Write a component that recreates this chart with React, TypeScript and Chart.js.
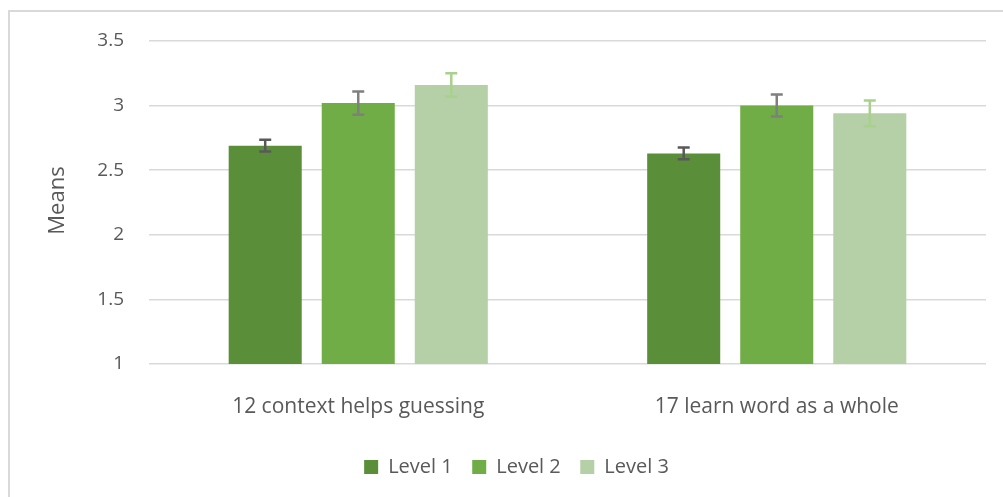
import React, { useEffect, useRef } from "react";
import { Chart, registerables } from "chart.js";

Chart.register(...registerables);

const categories = ["12 context helps guessing", "17 learn word as a whole"];
const seriesNames = ["Level 1", "Level 2", "Level 3"];
const level1 = [2.69, 2.63];
const level2 = [3.02, 3.0];
const level3 = [3.16, 2.94];
const err1 = [0.045, 0.045];
const err2 = [0.09, 0.085];
const err3 = [0.09, 0.1];
const yTicks = [1, 1.5, 2, 2.5, 3, 3.5];
const yTitle = "Means";

const barColors = ["#5b8e39", "#70ad47", "#b5cfa7"];
const errColors = ["#595959", "#7f7f7f", "#a9d18e"];
const errors = [err1, err2, err3];

const FONT = "'Open Sans', 'DejaVu Sans', sans-serif";
const TEXT = "#595959";

const framePlugin = {
  id: "frame",
  beforeDraw(chart: any) {
    const ctx = chart.ctx;
    ctx.save();
    ctx.fillStyle = "#ffffff";
    ctx.fillRect(0, 0, chart.width, chart.height);
    ctx.strokeStyle = "#d9d9d9";
    ctx.lineWidth = 2;
    ctx.strokeRect(9, 11, 1200, 700);
    ctx.restore();
  },
  afterDraw(chart: any) {
    const ctx = chart.ctx;
    ctx.save();
    ctx.translate(58, 200.5);
    ctx.rotate(-Math.PI / 2);
    ctx.fillStyle = TEXT;
    ctx.font = "22px " + FONT;
    ctx.textAlign = "center";
    ctx.textBaseline = "middle";
    ctx.fillText(yTitle, 0, 0);
    ctx.restore();
  },
};

const errorBarPlugin = {
  id: "errorBars",
  afterDatasetsDraw(chart: any) {
    const ctx = chart.ctx;
    const y = chart.scales.y;
    chart.data.datasets.forEach((ds: any, i: number) => {
      const meta = chart.getDatasetMeta(i);
      meta.data.forEach((bar: any, j: number) => {
        const v = ds.data[j];
        const e = errors[i][j];
        const top = y.getPixelForValue(v + e);
        const bot = y.getPixelForValue(v - e);
        const x = bar.x;
        ctx.save();
        ctx.strokeStyle = errColors[i];
        ctx.lineWidth = 2.5;
        ctx.beginPath();
        ctx.moveTo(x, top);
        ctx.lineTo(x, bot);
        ctx.moveTo(x - 6, top);
        ctx.lineTo(x + 6, top);
        ctx.moveTo(x - 6, bot);
        ctx.lineTo(x + 6, bot);
        ctx.stroke();
        ctx.restore();
      });
    });
  },
};

export default function App() {
  const ref = useRef<HTMLCanvasElement | null>(null);
  useEffect(() => {
    if (!ref.current) return;
    const data = [level1, level2, level3];
    const chart = new Chart(ref.current, {
      type: "bar",
      data: {
        labels: categories,
        datasets: seriesNames.map((name, i) => ({
          label: name,
          data: data[i],
          backgroundColor: barColors[i],
          borderWidth: 0,
          categoryPercentage: 0.667,
          barPercentage: 0.785,
        })),
      },
      options: {
        animation: false,
        responsive: false,
        maintainAspectRatio: false,
        layout: { padding: { left: 47, right: 17, top: 41, bottom: 10 } },
        plugins: {
          tooltip: { enabled: false },
          legend: {
            position: "bottom",
            labels: {
              boxWidth: 14,
              boxHeight: 14,
              padding: 19.5,
              color: TEXT,
              font: { family: FONT, size: 20 },
            },
          },
        },
        scales: {
          x: {
            grid: { display: false, drawTicks: false },
            border: { display: false },
            ticks: { color: TEXT, font: { family: FONT, size: 21 }, padding: 30, maxRotation: 0 },
            afterFit(scale: any) {
              scale.height = 73.5;
            },
          },
          y: {
            min: 1,
            max: 3.5,
            afterBuildTicks(scale: any) {
              scale.ticks = yTicks.map((v) => ({ value: v }));
            },
            grid: { color: "#d9d9d9", lineWidth: 1.5, drawTicks: false },
            border: { display: false },
            ticks: {
              color: TEXT,
              font: { family: FONT, size: 19 },
              padding: 25,
              callback: (v: any) => String(v),
            },
            afterFit(scale: any) {
              scale.width = 102;
            },
          },
        },
      },
      plugins: [framePlugin, errorBarPlugin],
    });
    return () => chart.destroy();
  }, []);
  return (
    <div style={{ position: "absolute", left: 0, top: 0, width: 1003, height: 497 }}>
      <canvas ref={ref} width={1003} height={497} style={{ display: "block" }} />
    </div>
  );
}
